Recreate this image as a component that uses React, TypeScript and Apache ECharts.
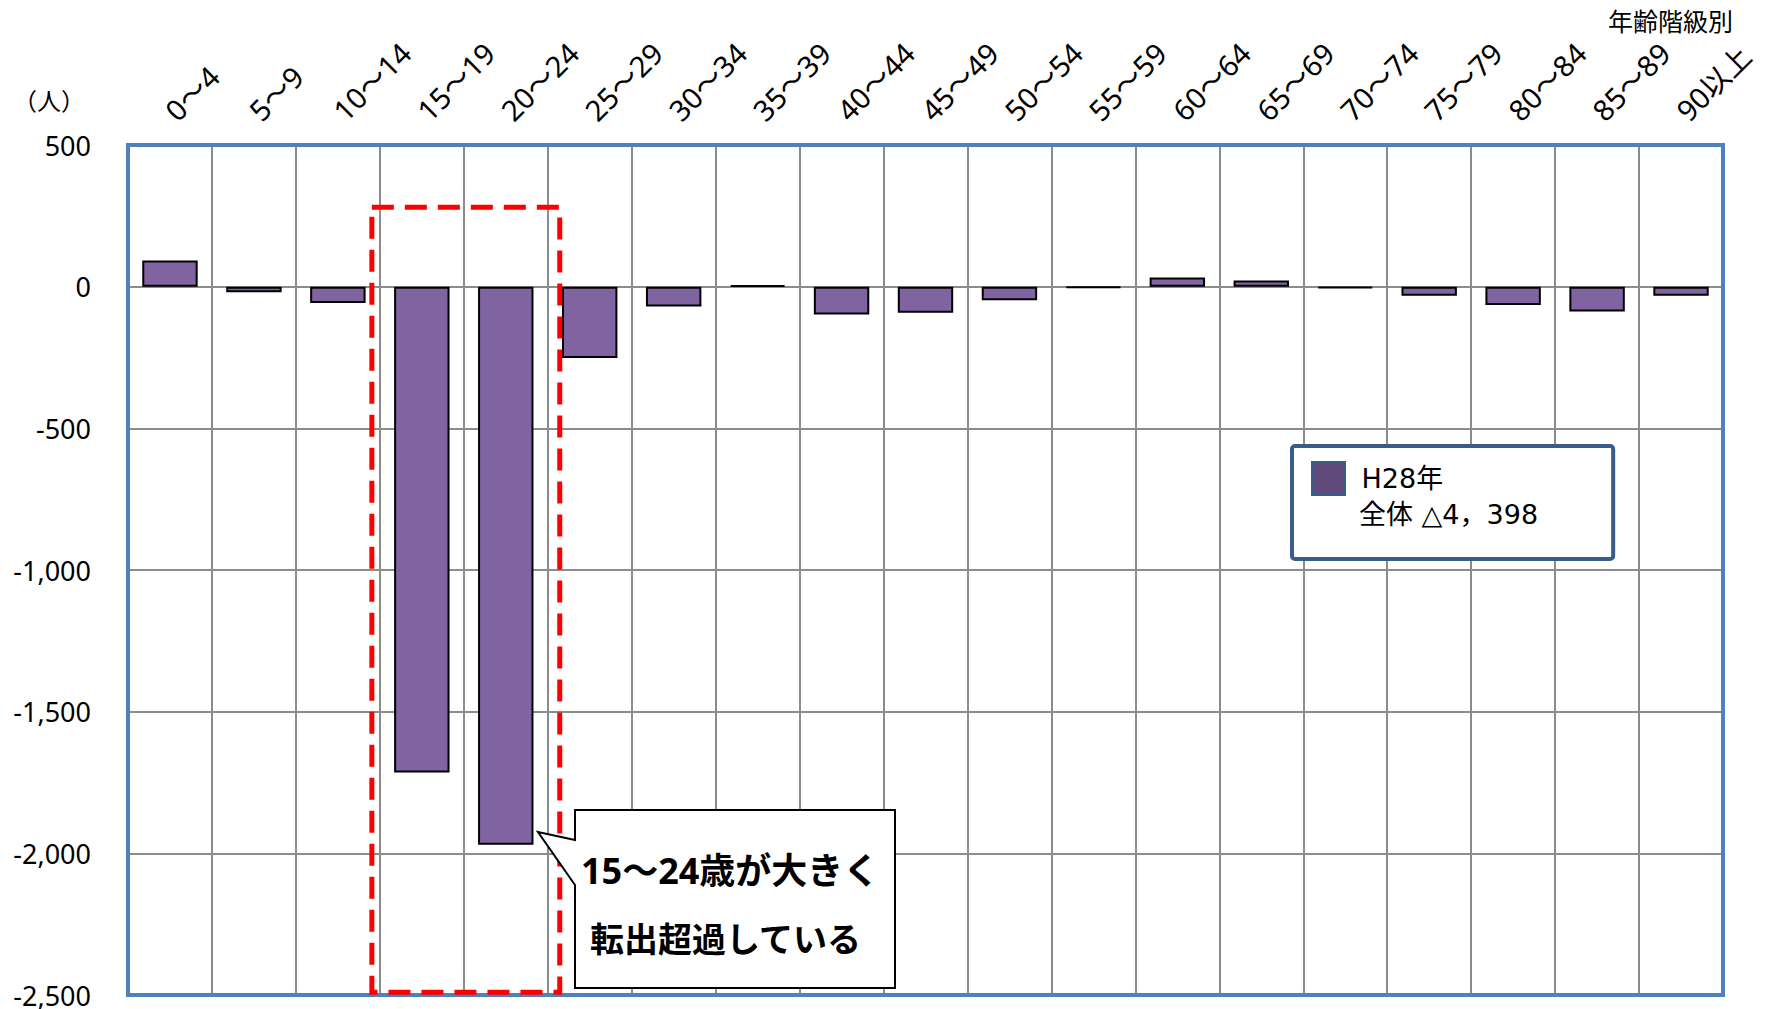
import React, { useEffect, useRef } from 'react';
import * as echarts from 'echarts';

// 年齢階級別 転入超過数（人）
const ageGroups = [
  '0～4', '5～9', '10～14', '15～19', '20～24', '25～29', '30～34', '35～39',
  '40～44', '45～49', '50～54', '55～59', '60～64', '65～69', '70～74',
  '75～79', '80～84', '85～89', '90以上',
];
const netMigration = [
  92, -20, -58, -1715, -1970, -252, -70, 5, -98, -92, -48, -4, 32, 22, -5,
  -32, -65, -88, -32,
];
const yMin = -2500;
const yMax = 500;
const yInterval = 500;

const seriesName = 'H28年';
const totalLabel = '全体 △4，398';
const unitLabel = '（人）';
const axisTitle = '年齢階級別';
const calloutLines = ['15～24歳が大きく', '転出超過している'];
const highlightFrom = '15～19';
const highlightTo = '20～24';
const highlightTop = 280;
const highlightBottom = -2490;

const FONT = '"Noto Sans", "Noto Sans CJK JP", sans-serif';
const CJK_FONT = '"Noto Sans CJK JP", "Noto Sans", sans-serif';
const LEGEND_FONT = '"DejaVu Sans", "Noto Sans CJK JP", sans-serif';

export default function App() {
  const ref = useRef<HTMLDivElement>(null);

  useEffect(() => {
    if (!ref.current) return;
    const chart = echarts.init(ref.current, null, { renderer: 'svg' });

    const gridLeft = 128;
    const gridTop = 145;
    const gridRight = 53;
    const gridBottom = 14;
    const W = 1776;
    const H = 1009;

    chart.setOption({
      animation: false,
      backgroundColor: '#ffffff',
      textStyle: { fontFamily: FONT },
      grid: {
        left: gridLeft,
        top: gridTop,
        right: gridRight,
        bottom: gridBottom,
        containLabel: false,
      },
      xAxis: {
        type: 'category',
        position: 'top',
        data: ageGroups,
        axisLine: { show: false },
        axisTick: { show: false },
        splitLine: { show: true, lineStyle: { color: '#8c8c8c', width: 2 } },
        axisLabel: {
          interval: 0,
          rotate: 45,
          fontSize: 29,
          color: '#000',
          margin: 30,
          fontFamily: FONT,
        },
      },
      yAxis: {
        type: 'value',
        min: yMin,
        max: yMax,
        interval: yInterval,
        axisLine: { show: false },
        axisTick: { show: false },
        splitLine: { lineStyle: { color: '#8c8c8c', width: 2 } },
        axisLabel: {
          fontSize: 27,
          color: '#000',
          margin: 37,
          fontFamily: FONT,
          formatter: (v: number) => v.toLocaleString('en-US'),
        },
      },
      legend: {
        left: 1292,
        top: 446,
        selectedMode: false,
        data: [
          {
            name: seriesName,
            icon: 'rect',
            itemStyle: { color: '#604a7b', borderColor: '#385d8a', borderWidth: 3 },
          },
        ],
        itemWidth: 32,
        itemHeight: 32,
        padding: [15, 170, 63, 19],
        backgroundColor: '#ffffff',
        borderColor: '#385d8a',
        borderWidth: 4,
        borderRadius: 3,
        textStyle: {
          fontSize: 27,
          color: '#000',
          fontFamily: LEGEND_FONT,
          padding: [0, 0, 0, 12],
        },
      },
      series: [
        {
          type: 'bar',
          name: seriesName,
          data: netMigration,
          barCategoryGap: '34%',
          itemStyle: { color: '#8064a2', borderColor: '#000', borderWidth: 2 },
        },
      ],
    });

    // Annotation positions follow the axes
    const toX = (v: string | number) =>
      chart.convertToPixel({ xAxisIndex: 0 }, v) as number;
    const toY = (v: number) => chart.convertToPixel({ yAxisIndex: 0 }, v) as number;
    const band = toX(1) - toX(0);
    const boxL = toX(highlightFrom) - band / 2 - 8;
    const boxR = toX(highlightTo) + band / 2 + 12;
    const boxT = toY(highlightTop);
    const boxB = toY(highlightBottom);

    const plotW = W - gridLeft - gridRight;
    const plotH = H - gridTop - gridBottom;

    chart.setOption({
      graphic: [
        {
          type: 'rect',
          z: 50,
          silent: true,
          shape: { x: gridLeft, y: gridTop, width: plotW, height: plotH },
          style: { fill: 'none', stroke: '#4f81bd', lineWidth: 4 },
        },
        {
          type: 'rect',
          z: 60,
          silent: true,
          shape: { x: boxL, y: boxT, width: boxR - boxL, height: boxB - boxT },
          style: { fill: 'none', stroke: '#ff0000', lineWidth: 5, lineDash: [22, 11] },
        },
        {
          type: 'polygon',
          z: 70,
          silent: true,
          shape: {
            points: [
              [575, 810], [895, 810], [895, 988], [575, 988],
              [575, 885], [538, 832], [575, 840],
            ],
          },
          style: { fill: '#ffffff', stroke: '#000', lineWidth: 2 },
        },
        {
          type: 'text',
          z: 71,
          silent: true,
          style: {
            x: 581,
            y: 870,
            text: calloutLines[0],
            font: `bold 36px ${FONT}`,
            fill: '#000',
            textAlign: 'left',
            textVerticalAlign: 'middle',
          },
        },
        {
          type: 'text',
          z: 71,
          silent: true,
          style: {
            x: 590,
            y: 937,
            text: calloutLines[1],
            font: `bold 34px ${CJK_FONT}`,
            fill: '#000',
            textAlign: 'left',
            textVerticalAlign: 'middle',
          },
        },
        {
          type: 'text',
          z: 80,
          silent: true,
          style: {
            x: 1359,
            y: 514,
            text: totalLabel,
            font: `27px ${LEGEND_FONT}`,
            fill: '#000',
            textAlign: 'left',
            textVerticalAlign: 'middle',
          },
        },
        {
          type: 'text',
          silent: true,
          style: {
            x: 49,
            y: 99,
            text: unitLabel,
            font: `24px ${CJK_FONT}`,
            fill: '#000',
            textAlign: 'center',
            textVerticalAlign: 'middle',
          },
        },
        {
          type: 'text',
          silent: true,
          style: {
            x: 1733,
            y: 20,
            text: axisTitle,
            font: `25px ${CJK_FONT}`,
            fill: '#000',
            textAlign: 'right',
            textVerticalAlign: 'middle',
          },
        },
      ],
    });

    return () => chart.dispose();
  }, []);

  return (
    <div
      ref={ref}
      style={{ position: 'fixed', left: 0, top: 0, width: 1776, height: 1009 }}
    />
  );
}
